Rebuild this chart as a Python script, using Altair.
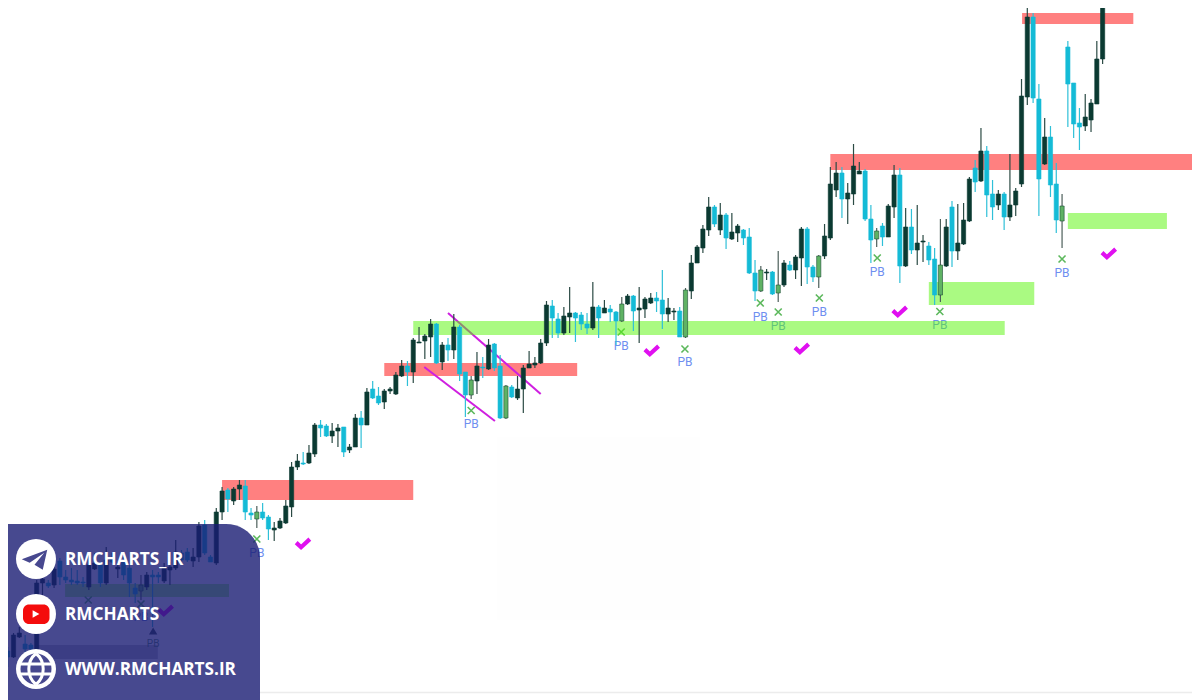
import altair as alt
import pandas as pd

body_top = [648,651,635,633,644,645,583,579,583,569,
 561,577,580,581,582,565,563,565,560,558,
 567,562,568,588,585,575,575,575,568,567,
 552,553,552,557,526,525,557,512,491,490,
 489,485,486,513,512,512,517,528,521,506,
 467,461,463,453,425,425,426,431,428,427,
 447,418,418,392,389,396,391,389,375,366,
 366,340,342,336,324,324,345,345,327,327,
 372,380,366,367,345,344,366,386,387,389,
 368,364,363,343,305,306,319,316,313,313,
 315,324,307,307,308,309,312,304,296,296,
 308,299,298,298,300,308,311,311,290,263,
 247,229,207,207,215,215,232,226,230,237,
 273,270,272,272,285,263,265,257,229,229,
 267,256,236,184,173,173,193,166,171,171,
 219,231,226,206,175,175,227,227,243,241,
 246,259,265,227,207,243,220,179,168,151,
 151,194,194,194,205,191,96,17,17,99,
 137,137,184,206,47,83,123,117,103,59,-20]
body_bot = [652,657,657,637,649,649,650,583,586,585,
 577,580,582,583,583,587,569,583,583,562,
 569,575,583,594,591,587,577,577,581,570,
 568,560,560,561,557,553,562,563,512,499,
 501,489,512,515,519,518,529,530,528,523,
 507,467,464,463,454,428,436,436,431,452,
 450,447,425,425,398,403,402,391,394,376,
 372,372,343,341,337,363,362,350,350,374,
 395,395,381,368,369,368,418,418,397,398,
 389,368,365,363,343,318,333,333,317,318,
 324,328,328,318,313,312,321,321,304,311,
 310,309,303,301,314,314,312,337,337,291,
 263,248,230,224,230,238,239,233,238,273,
 291,291,273,294,293,285,270,270,258,267,
 277,277,256,238,190,199,199,194,174,219,
 240,239,237,237,207,266,266,250,250,242,
 260,295,295,266,251,251,244,221,182,181,
 195,207,205,217,217,205,184,97,98,179,
 164,185,220,221,84,124,127,126,120,104,59]
wick_top = [643,647,633,627,635,643,580,575,580,563,
 558,570,568,570,577,555,553,562,547,553,
 562,557,565,583,575,572,570,572,563,562,
 540,550,548,548,522,520,555,508,487,488,
 487,480,480,508,506,503,515,522,518,500,
 462,454,452,445,423,420,424,423,424,427,
 444,414,411,388,381,387,389,387,372,360,
 361,338,327,334,319,323,342,338,314,325,
 372,376,352,357,339,343,355,385,385,376,
 365,351,357,339,301,300,313,307,287,312,
 312,313,282,305,300,305,311,297,294,295,
 287,297,293,292,270,298,308,307,288,255,
 245,225,197,205,203,213,213,224,229,228,
 260,266,269,271,251,260,261,255,227,227,
 265,255,224,167,162,167,183,144,162,169,
 205,228,223,204,165,168,208,209,205,235,
 242,248,219,219,201,204,203,177,160,128,
 146,180,190,192,154,188,79,-10,13,84,
 118,126,163,194,41,83,108,94,99,41,-25]
wick_bot = [657,667,658,638,652,651,652,595,588,588,
 585,583,585,585,587,590,570,587,585,563,
 578,580,597,603,600,590,627,583,583,585,
 570,563,562,567,562,555,562,565,520,512,
 505,500,520,520,528,520,540,541,529,524,
 517,470,465,464,457,437,437,443,447,457,
 453,447,448,425,399,405,409,394,395,377,
 386,383,343,359,357,364,370,361,359,381,
 417,399,394,378,370,371,419,419,398,400,
 413,368,368,364,346,338,338,335,333,342,
 330,334,330,338,313,322,345,322,305,331,
 343,318,304,312,329,322,320,337,338,299,
 254,253,236,227,235,249,240,242,245,274,
 301,292,280,295,302,287,271,279,286,284,
 282,288,259,240,197,218,224,205,174,221,
 263,247,246,237,218,283,267,254,265,262,
 265,305,302,267,267,260,245,222,192,182,
 217,220,210,230,221,216,187,105,103,216,
 165,197,233,248,127,138,150,131,132,104,64]
kinds = list("ccddccddcd" "cccccddcdc" "dcccgdccdd" "dccddccddc" "ddccgccddd"
             "ddcddccddc" "ddcdccdddd" "cddddcdcdc" "cgdcdccgcd" "dddddccddc"
             "ccdcdccgdc" "dddccddcgd" "dddcdcddcc" "cgdcgdcddc" "cgdddcdddc"
             "cgcddcdcdd" "ccgdcdddcd" "ccdcddddcc" "dccgcccdddd")

red_start = [38.0, 66.0, 143.0, 176.1]
red_end = [71.0, 99.3, 210.0, 195.3]
red_hi = [480, 363, 154, 13]
red_lo = [500, 376, 170, 24]

hidden_start = [5.7]
hidden_end = [26.9]
hidden_hi = [645]
hidden_lo = [659]

green_start = [71.0, 160.0, 184.0, 10.9]
green_end = [173.1, 178.2, 201.1, 39.2]
green_hi = [321, 282, 213, 584]
green_lo = [335, 305, 229, 597]

channel_x1 = [77.0, 72.9]
channel_x2 = [93.0, 85.1]
channel_y1 = [313, 367]
channel_y2 = [394, 421]

cross_bar = [44.0, 81.0, 106.9, 117.9, 130.9, 134.0, 141.1, 151.1, 161.9, 183.0, 14.9, 24.0]
cross_level = [539, 410.5, 332, 349, 303, 312, 298, 258, 311.5, 259, 600, 604]
pb_bar = [44.0, 81.0, 106.9, 117.9, 130.9, 134.0, 141.1, 151.1, 161.9, 183.0, 24.0]
pb_level = [553, 424, 346, 362, 316.5, 326, 311.5, 271.5, 325, 272.5, 617]

check_bar = [52.0, 112.2, 138.1, 155.0, 191.1, 28.3]
check_level = [543, 350, 348, 311, 253, 610]

PANEL_TEXT = ["RMCHARTS_IR", "RMCHARTS", "WWW.RMCHARTS.IR"]

candles = pd.DataFrame({"i": range(len(body_top)), "top": body_top, "bot": body_bot,
                        "hi": wick_top, "lo": wick_bot, "kind": kinds})
reds = pd.DataFrame({"a": red_start, "b": red_end, "t": red_hi, "u": red_lo})
hidden = pd.DataFrame({"a": hidden_start, "b": hidden_end, "t": hidden_hi, "u": hidden_lo})
greens = pd.DataFrame({"a": green_start, "b": green_end, "t": green_hi, "u": green_lo})
channels = pd.DataFrame({"a": channel_x1, "b": channel_x2, "t": channel_y1, "u": channel_y2})
crosses = pd.DataFrame({"i": cross_bar, "c": cross_level})
pbs = pd.DataFrame({"i": pb_bar, "l": pb_level, "txt": "PB"})
checks = pd.DataFrame({"i": check_bar, "c": check_level})
faint = pd.DataFrame({"a": [85.5], "b": [120.5], "t": [437], "u": [620]})
floor = pd.DataFrame({"a": [44.5], "b": [210.0], "t": [692.5]})
marker = pd.DataFrame({"i": [26.1], "c": [631], "l": [644], "txt": ["PB"]})

xs = alt.Scale(domain=[1.046, 205.43], nice=False, zero=False, padding=0)
ys = alt.Scale(domain=[8, 700], reverse=True, nice=False, zero=False, padding=0)
X = lambda f: alt.X(f, type="quantitative", scale=xs, axis=None)
Y = lambda f: alt.Y(f, type="quantitative", scale=ys, axis=None)
kind_dom = ["d", "c", "g"]

def zone(df, **kw):
    return alt.Chart(df).mark_rect(clip=True, **kw).encode(
        x=X("a"), x2="b", y=Y("t"), y2="u")

one = alt.Data(values=[{"k": 1}])
PANEL = "#47488f"

def pixel_point(px, py, **kw):
    return alt.Chart(one).mark_point(**kw).encode(x=alt.value(px - 8), y=alt.value(py - 8))

layers = [
    zone(faint, color="#fefefe"),
    zone(reds, color="#ff8080"),
    zone(hidden, color="#c0c0c8"),
    alt.Chart(floor).mark_rule(color="#ececec", strokeWidth=1.5, clip=True).encode(
        x=X("a"), x2="b", y=Y("t")),
    alt.Chart(channels).mark_rule(color="#cf1fe0", strokeWidth=2, clip=True).encode(
        x=X("a"), x2="b", y=Y("t"), y2="u"),
    alt.Chart(crosses).mark_point(shape="M-1,-1 L1,1 M-1,1 L1,-1", filled=False, size=49,
                                  stroke="#5cb85c", strokeWidth=1.6, opacity=1).encode(
        x=X("i"), y=Y("c")),
    alt.Chart(pbs).mark_text(color="#6f8ff0", fontSize=12, font="Roboto").encode(
        x=X("i"), y=Y("l"), text="txt:N"),
    zone(greens, color="#55f505", opacity=0.5),
    alt.Chart(marker).mark_point(shape="triangle-up", filled=True, size=70, color="#3a4f4a", opacity=1).encode(
        x=X("i"), y=Y("c")),
    alt.Chart(marker).mark_text(color="#5f8f70", fontSize=10, font="Roboto").encode(
        x=X("i"), y=Y("l"), text="txt:N"),
    alt.Chart(candles).mark_rule(strokeWidth=1.2, clip=True).encode(
        x=X("i"), y=Y("hi"), y2="lo",
        color=alt.Color("kind:N", legend=None,
                        scale=alt.Scale(domain=kind_dom, range=["#2b4a44", "#2fc0d8", "#4d5f5a"]))),
    alt.Chart(candles).mark_bar(size=4.2, clip=True, strokeWidth=0.6).encode(
        x=X("i"), y=Y("top"), y2="bot",
        color=alt.Color("kind:N", legend=None,
                        scale=alt.Scale(domain=kind_dom, range=["#0b3a32", "#14bbd6", "#5fb264"])),
        stroke=alt.Stroke("kind:N", legend=None,
                          scale=alt.Scale(domain=kind_dom, range=["#0b3a32", "#14bbd6", "#1d4d35"]))),
    alt.Chart(checks).mark_point(
        shape="M-1,-0.05 L-0.3,0.6 L0.95,-0.55", size=196, filled=False, stroke="#e010f0",
        strokeWidth=4.2, opacity=1).encode(x=X("i"), y=Y("c")),
    alt.Chart(one).mark_rect(color="#191c73", opacity=0.8, cornerRadiusTopRight=34).encode(
        x=alt.value(0), x2=alt.value(252), y=alt.value(516), y2=alt.value(692)),
]

for py in (559, 614, 669):
    layers.append(alt.Chart(one).mark_circle(color="white", size=1600, opacity=1).encode(
        x=alt.value(28), y=alt.value(py - 8)))

layers += [
    pixel_point(36, 559, shape="M0.75,-0.62 L-0.95,0.02 L-0.42,0.25 L0.55,-0.42 L-0.1,0.38 L0.45,0.72 Z",
                size=900, filled=True, color=PANEL, opacity=1),
    alt.Chart(one).mark_rect(color="#f40c0c", cornerRadius=6).encode(
        x=alt.value(15), x2=alt.value(41.5), y=alt.value(596.5), y2=alt.value(616)),
    pixel_point(36, 614, shape="triangle-right", size=60, filled=True, color="white", opacity=1),
    alt.Chart(one).mark_circle(color=PANEL, size=961, opacity=1).encode(x=alt.value(28), y=alt.value(661)),
    pixel_point(36, 669, shape="M-1,-0.33 L1,-0.33 M-1,0.33 L1,0.33 M0,-1 C-0.62,-0.5,-0.62,0.5,0,1 M0,-1 C0.62,-0.5,0.62,0.5,0,1",
                size=961, filled=False, stroke="white", strokeWidth=3, opacity=1),
]

for label, py in zip(PANEL_TEXT, (560, 615, 670)):
    layers.append(alt.Chart(one).mark_text(
        text=label, color="white", font="Open Sans", fontWeight="bold", fontSize=17.2,
        align="left", baseline="middle").encode(x=alt.value(57), y=alt.value(py - 8)))

chart = alt.layer(*layers).resolve_scale(color="independent", stroke="independent").properties(
    width=1184, height=692, padding=0, background="white",
    autosize=alt.AutoSizeParams(type="none"),
).configure_view(stroke=None)

chart.save("out.html", embed_options={"renderer": "svg", "actions": False})
